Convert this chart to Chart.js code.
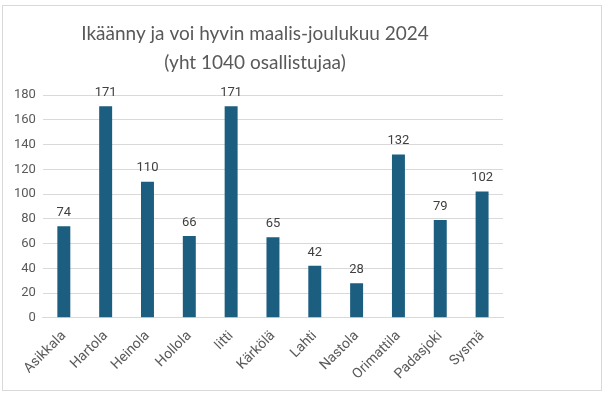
<!DOCTYPE html>
<html>
<head>
<meta charset="utf-8">
<script src="https://cdn.jsdelivr.net/npm/chart.js@4"></script>
<style>
  html, body { margin: 0; padding: 0; background: #fff; }
  #box {
    position: absolute; left: 2px; top: 5px;
    width: 598px; height: 384px;
    border: 1px solid #d9d9d9; background: #fff;
  }
</style>
</head>
<body>
<div id="box"><canvas id="chart" width="598" height="384"></canvas></div>
<script>
// Osallistujat kunnittain
const kunnat = ['Asikkala', 'Hartola', 'Heinola', 'Hollola', 'Iitti', 'Kärkölä', 'Lahti', 'Nastola', 'Orimattila', 'Padasjoki', 'Sysmä'];
const osallistujat = [74, 171, 110, 66, 171, 65, 42, 28, 132, 79, 102];
const yTicks = [0, 20, 40, 60, 80, 100, 120, 140, 160, 180];
const otsikko = ['Ikäänny ja voi hyvin maalis-joulukuu 2024', '(yht 1040 osallistujaa)'];

// draw the value above each bar
const valueLabels = {
    id: 'valueLabels',
    afterDatasetsDraw(chart) {
        const ctx = chart.ctx;
        const meta = chart.getDatasetMeta(0);
        ctx.save();
        ctx.font = '13px Roboto';
        ctx.fillStyle = '#404040';
        ctx.textAlign = 'center';
        ctx.textBaseline = 'bottom';
        meta.data.forEach((bar, i) => {
            ctx.fillText(String(osallistujat[i]), bar.x, bar.y - 7);
        });
        ctx.restore();
    },
};

new Chart(document.getElementById('chart'), {
    type: 'bar',
    data: {
        labels: kunnat,
        datasets: [{
            data: osallistujat,
            backgroundColor: '#1b5e80',
            categoryPercentage: 1,
            barPercentage: 0.31,
        }],
    },
    options: {
        responsive: false,
        animation: false,
        layout: { padding: { left: 4, right: 98, top: 14, bottom: 5 } },
        plugins: {
            legend: { display: false },
            tooltip: { enabled: false },
            title: {
                display: true,
                text: otsikko,
                color: '#595959',
                font: { family: 'Lato', size: 19, weight: 'normal', lineHeight: 1.5 },
                padding: { top: 0, bottom: 18 },
            },
        },
        scales: {
            x: {
                grid: { display: false },
                border: { color: '#d9d9d9' },
                ticks: {
                    color: '#595959',
                    font: { family: 'Roboto', size: 14 },
                    maxRotation: 45,
                    minRotation: 45,
                    padding: 2,
                },
            },
            y: {
                min: 0,
                max: 180,
                afterBuildTicks: axis => { axis.ticks = yTicks.map(v => ({ value: v })); },
                grid: { color: '#d9d9d9', drawTicks: false },
                border: { display: false },
                ticks: {
                    color: '#595959',
                    font: { family: 'Roboto', size: 13 },
                    padding: 7,
                },
            },
        },
    },
    plugins: [valueLabels],
});
</script>
</body>
</html>
